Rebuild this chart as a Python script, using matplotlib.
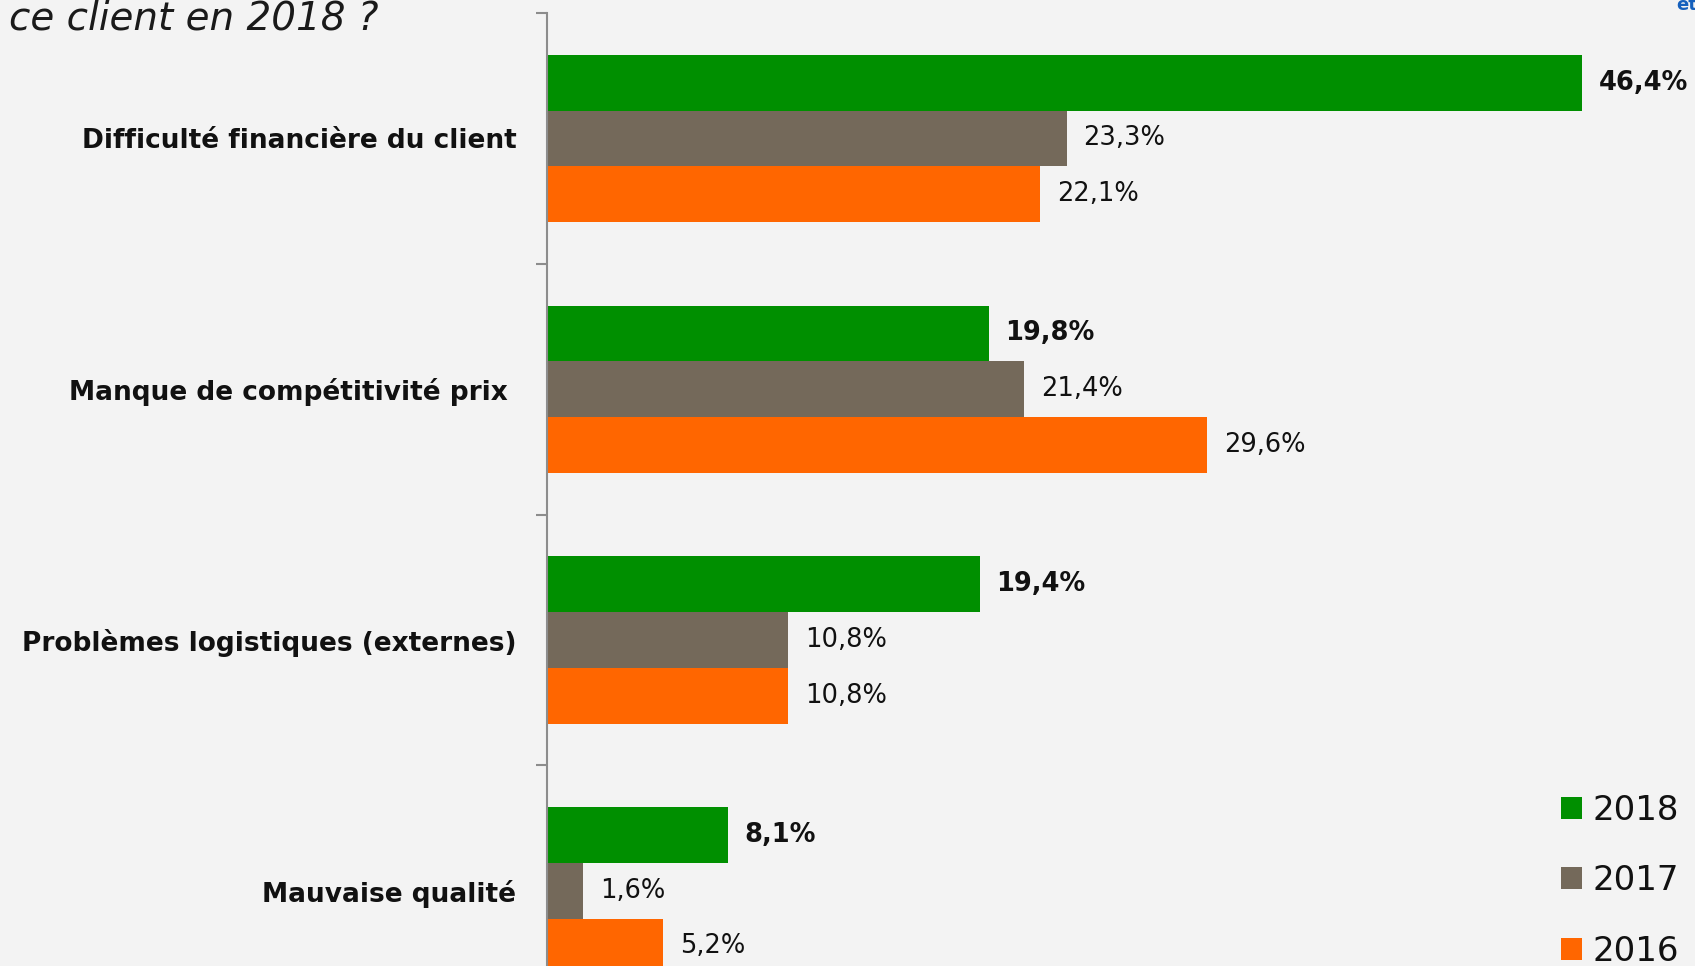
#!/usr/bin/env python3

import matplotlib
import matplotlib.pyplot as plt
import numpy as np

matplotlib.use("Agg")

categories = [
    "Difficulté financière du client",
    "Manque de compétitivité prix ",
    "Problèmes logistiques (externes)",
    "Mauvaise qualité",
]
years = ["2018", "2017", "2016"]
values_2018 = [46.4, 19.8, 19.4, 8.1]
values_2017 = [23.3, 21.4, 10.8, 1.6]
values_2016 = [22.1, 29.6, 10.8, 5.2]

colors = ["#008f00", "#74695a", "#ff6600"]
BG = "#f3f3f3"


def fmt(v: float) -> str:
    return f"{v:.1f}".replace(".", ",") + "%"


def main() -> None:
    plt.rcParams["font.family"] = ["DejaVu Sans"]
    W, H = 1695, 966
    fig = plt.figure(figsize=(W / 100, H / 100), dpi=100)
    fig.patch.set_facecolor(BG)

    ax_left, ax_top = 547, 13
    group_px = 250.8
    px_per_pct = 22.3
    ax = fig.add_axes([ax_left / W, 1 - (ax_top + 4 * group_px) / H,
                       50 * px_per_pct / W, 4 * group_px / H])
    ax.set_facecolor(BG)

    y = np.arange(len(categories))
    h = 55.7 / group_px
    series = [values_2018, values_2017, values_2016]
    for i, (vals, year, col) in enumerate(zip(series, years, colors)):
        pos = y + (i - 1) * h
        ax.barh(pos, vals, height=h, color=col, label=year)
        for p, v in zip(pos, vals):
            ax.text(v + 17 / px_per_pct, p, fmt(v), va="center", ha="left",
                    fontsize=18.5 if i else 18.5, color="#111111",
                    fontweight="bold" if i == 0 else "normal")

    ax.set_xlim(0, 50)
    ax.set_ylim(3.5, -0.5)
    for s in ["top", "right", "bottom"]:
        ax.spines[s].set_visible(False)
    ax.spines["left"].set_color("#8c8c8c")
    ax.spines["left"].set_linewidth(1.5)
    ax.set_xticks([])
    ax.set_yticks(y)
    ax.set_yticklabels(categories, fontsize=19, fontweight="bold", color="#111111")
    ax.tick_params(axis="y", which="major", length=0, pad=22)
    ax.set_yticks(np.arange(-0.5, 4, 1), minor=True)
    ax.tick_params(axis="y", which="minor", length=8, width=1.5, color="#8c8c8c")

    leg = ax.legend(loc="upper left", bbox_to_anchor=(1544 / W, 1 - 777 / H),
                    bbox_transform=fig.transFigure, frameon=False,
                    fontsize=24.5, handlelength=0.62, handleheight=0.62,
                    handletextpad=0.3, labelspacing=1.1, borderpad=0)
    for t in leg.get_texts():
        t.set_color("#111111")

    fig.text(9 / W, 1 - 30 / H, "ce client en 2018 ?", fontsize=28,
             fontstyle="italic", color="#1a1a1a", va="baseline", ha="left")
    fig.text(1676 / W, 1 - 10 / H, "et", fontsize=13, fontweight="bold",
             color="#1560bd", va="baseline", ha="left")

    fig.savefig("out.png", dpi=100, facecolor=BG)


if __name__ == "__main__":
    main()
